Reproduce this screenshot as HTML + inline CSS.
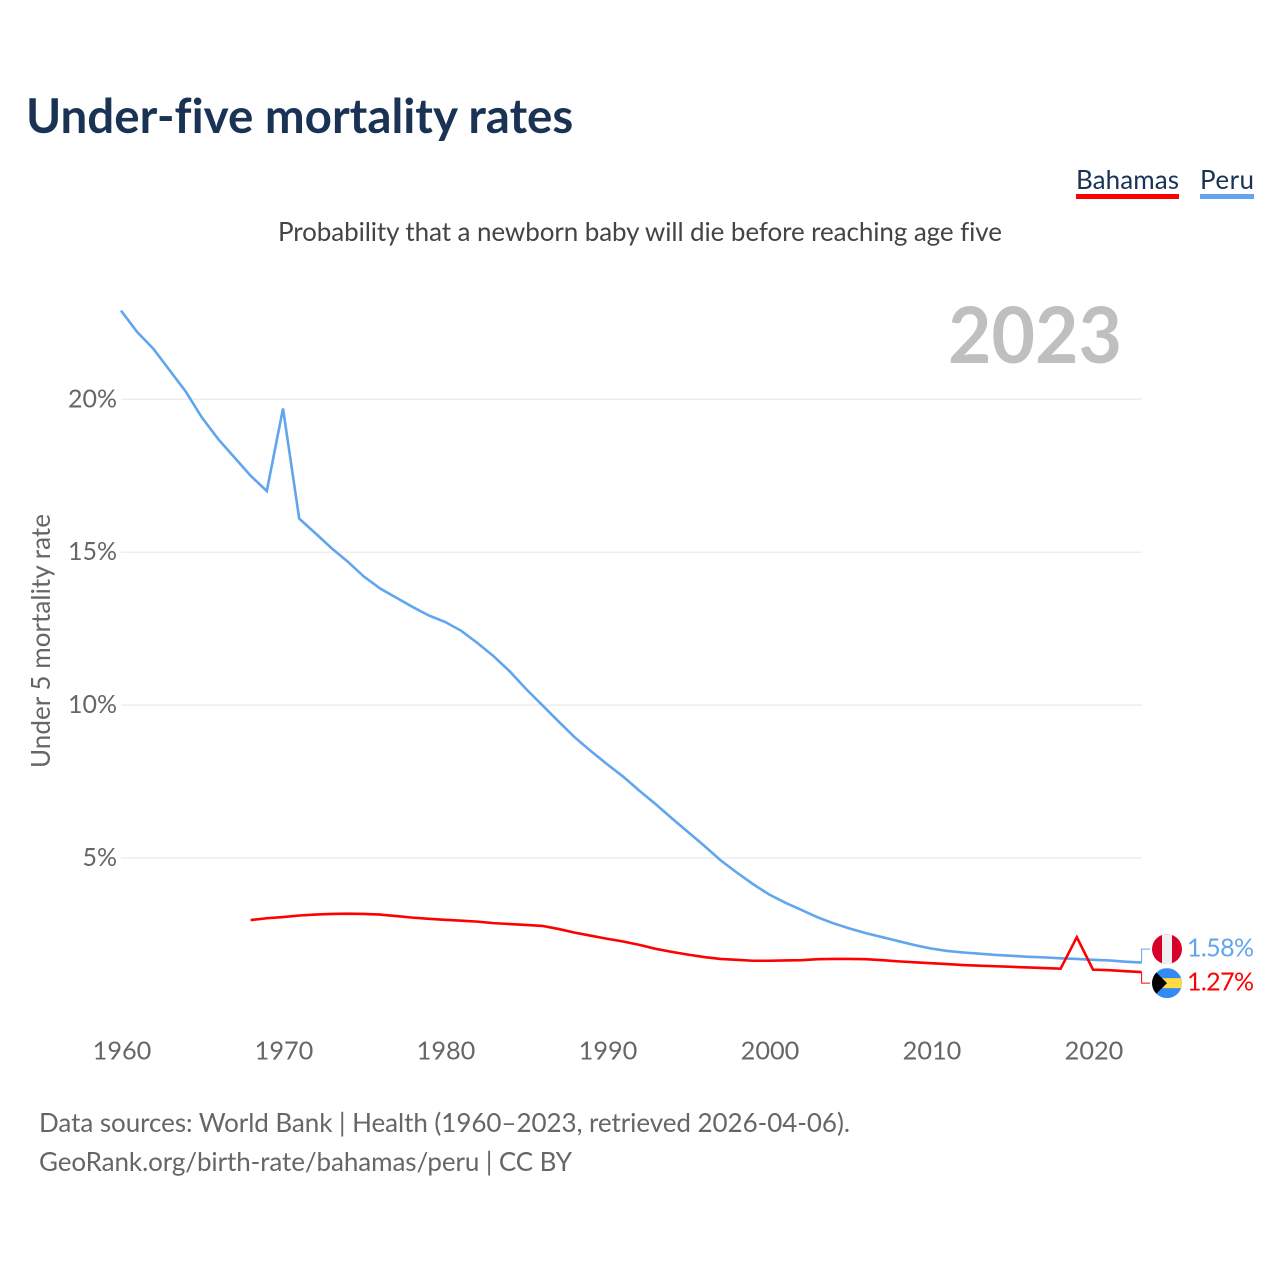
<!DOCTYPE html>
<html lang="en">
<head>
<meta charset="utf-8">
<title>Under-five mortality rates</title>
<style>
html,body{margin:0;padding:0;background:#fff;width:1280px;height:1280px;overflow:hidden}
svg{display:block}
text{font-family:"Lato","Carlito","Liberation Sans",sans-serif;font-variant-ligatures:none}
</style>
</head>
<body>
<svg id="chart" xmlns="http://www.w3.org/2000/svg" width="1280" height="1280" viewBox="0 0 1280 1280">
  <rect x="0" y="0" width="1280" height="1280" fill="#ffffff"/>
  <text x="26" y="133" font-size="47.5" font-weight="700" fill="#1a3254">Under-five mortality rates</text>
  <g>
    <text x="1076" y="189" font-size="26" fill="#1a3254" textLength="103">Bahamas</text>
    <rect x="1076" y="194" width="103" height="5" fill="#ff0000"/>
  </g>
  <g>
    <text x="1200" y="189" font-size="26" fill="#1a3254" textLength="54">Peru</text>
    <rect x="1200" y="194" width="54" height="5" fill="#60a5ee"/>
  </g>
  <text x="278" y="241" font-size="26" fill="#444444" textLength="724">Probability that a newborn baby will die before reaching age five</text>
  <text x="948" y="363" font-size="78" font-weight="700" fill="#bfbfbf" textLength="174" lengthAdjust="spacingAndGlyphs">2023</text>
  <text transform="translate(50 768) rotate(-90)" font-size="26" fill="#666666" textLength="254">Under 5 mortality rate</text>
  <g id="grid"></g>
  <g id="yticks"></g>
  <g id="xticks"></g>
  <g id="series"></g>
  <g id="ends"></g>
  <defs>
    <clipPath id="flag-clip"><circle cx="0" cy="0" r="15"/></clipPath>
  </defs>
  <text x="39" y="1132" font-size="26" fill="#666666" textLength="811">Data sources: World Bank | Health (1960–2023, retrieved 2026-04-06).</text>
  <text x="39" y="1171" font-size="26" fill="#666666" textLength="533">GeoRank.org/birth-rate/bahamas/peru | CC BY</text>
</svg>
<script>
const peruYears = [1960,1961,1962,1963,1964,1965,1966,1967,1968,1969,1970,1971,1972,1973,1974,1975,1976,1977,1978,1979,1980,1981,1982,1983,1984,1985,1986,1987,1988,1989,1990,1991,1992,1993,1994,1995,1996,1997,1998,1999,2000,2001,2002,2003,2004,2005,2006,2007,2008,2009,2010,2011,2012,2013,2014,2015,2016,2017,2018,2019,2020,2021,2022,2023];
const peruValues = [22.9,22.2,21.65,20.95,20.25,19.4,18.7,18.1,17.5,17.0,19.7,16.1,15.62,15.13,14.69,14.2,13.81,13.51,13.21,12.93,12.72,12.43,12.03,11.6,11.1,10.53,10.0,9.47,8.95,8.5,8.07,7.66,7.2,6.76,6.3,5.85,5.4,4.93,4.53,4.15,3.81,3.54,3.3,3.06,2.86,2.69,2.54,2.41,2.28,2.15,2.04,1.96,1.91,1.87,1.83,1.8,1.77,1.75,1.72,1.7,1.67,1.65,1.61,1.58];
const bahamasYears = [1968,1969,1970,1971,1972,1973,1974,1975,1976,1977,1978,1979,1980,1981,1982,1983,1984,1985,1986,1987,1988,1989,1990,1991,1992,1993,1994,1995,1996,1997,1998,1999,2000,2001,2002,2003,2004,2005,2006,2007,2008,2009,2010,2011,2012,2013,2014,2015,2016,2017,2018,2019,2020,2021,2022,2023];
const bahamasValues = [2.97,3.03,3.07,3.12,3.15,3.17,3.18,3.17,3.15,3.1,3.05,3.01,2.98,2.95,2.92,2.87,2.84,2.81,2.78,2.68,2.56,2.46,2.36,2.27,2.16,2.03,1.93,1.84,1.76,1.7,1.67,1.64,1.64,1.65,1.66,1.69,1.7,1.7,1.69,1.66,1.62,1.59,1.56,1.53,1.5,1.48,1.46,1.44,1.42,1.4,1.38,2.41,1.35,1.33,1.3,1.27];
const yTickValues = [5,10,15,20];
const yTickLabels = ['5%','10%','15%','20%'];
const xTickValues = [1960,1970,1980,1990,2000,2010,2020];
const xTickLabels = ['1960','1970','1980','1990','2000','2010','2020'];
const peruEndLabel = '1.58%';
const bahamasEndLabel = '1.27%';

const NS = 'http://www.w3.org/2000/svg';
const plot = {left:121, right:1141.6, zeroY:1010.9, perUnit:30.58, yearMin:1960, yearMax:2023};
function xScale(year){ return plot.left + (year - plot.yearMin) * (plot.right - plot.left) / (plot.yearMax - plot.yearMin); }
function yScale(v){ return plot.zeroY - v * plot.perUnit; }
function make(tag, attrs, parent){
  const el = document.createElementNS(NS, tag);
  for (const k in attrs) el.setAttribute(k, attrs[k]);
  parent.appendChild(el);
  return el;
}
const grid = document.getElementById('grid');
const yticks = document.getElementById('yticks');
const xticks = document.getElementById('xticks');
const series = document.getElementById('series');
const ends = document.getElementById('ends');

yTickValues.forEach(function(v, i){
  const line = make('line', {x1:plot.left, x2:plot.right, y1:yScale(v), y2:yScale(v), stroke:'#eeeeee', 'stroke-width':1.5}, grid);
  
  
  const label = make('text', {x:117, y:yScale(v)+8, 'text-anchor':'end', 'font-size':25, fill:'#666666'}, yticks);
  
  
  label.textContent = yTickLabels[i];
});

xTickValues.forEach(function(year, i){
  const label = make('text', {x:xScale(year)+1, y:1059.5, 'text-anchor':'middle', 'font-size':25.3, fill:'#666666'}, xticks);
  
  
  label.textContent = xTickLabels[i];
});

function linePath(years, values){
  return values.map(function(v, i){
    return (i ? 'L' : 'M') + xScale(years[i]).toFixed(2) + ' ' + yScale(v).toFixed(2);
  }).join(' ');
}
const peruLine = make('path', {d:linePath(peruYears, peruValues), fill:'none', stroke:'#60a5ee', 'stroke-width':2.6}, series);


const bahamasLine = make('path', {d:linePath(bahamasYears, bahamasValues), fill:'none', stroke:'#ff0000', 'stroke-width':2.6}, series);



const peruEndY = yScale(peruValues[peruValues.length - 1]);
const bahamasEndY = yScale(bahamasValues[bahamasValues.length - 1]);
const midY = (peruEndY + bahamasEndY) / 2 - 1.2;
const peruFlagY = midY - 17;
const bahamasFlagY = midY + 17;

const peruLink = make('path', {d:'M'+plot.right+' '+peruEndY+' V'+peruFlagY+' H1150', fill:'none', stroke:'#60a5ee', 'stroke-width':1}, ends);


const bahamasLink = make('path', {d:'M'+plot.right+' '+bahamasEndY+' V'+bahamasFlagY+' H1150', fill:'none', stroke:'#ff0000', 'stroke-width':1}, ends);



const peruFlag = make('g', {transform:'translate(1167 '+peruFlagY+')', 'clip-path':'url(#flag-clip)'}, ends);


make('rect', {x:-15, y:-15, width:30, height:30, fill:'#d80027'}, peruFlag);
make('rect', {x:-5, y:-15, width:10, height:30, fill:'#f0f0f0'}, peruFlag);

const bahamasFlag = make('g', {transform:'translate(1167 '+bahamasFlagY+')', 'clip-path':'url(#flag-clip)'}, ends);


make('rect', {x:-15, y:-15, width:30, height:30, fill:'#338af3'}, bahamasFlag);
make('rect', {x:-15, y:-5, width:30, height:10, fill:'#ffda44'}, bahamasFlag);
make('polygon', {points:'-15,-15 0,0 -15,15', fill:'#000000'}, bahamasFlag);

const peruValueLabel = make('text', {x:1187, y:peruFlagY+7.5, 'font-size':25, fill:'#60a5ee', textLength:67}, ends);


peruValueLabel.textContent = peruEndLabel;
const bahamasValueLabel = make('text', {x:1187, y:bahamasFlagY+7.5, 'font-size':25, fill:'#ff0000', textLength:67}, ends);


bahamasValueLabel.textContent = bahamasEndLabel;
</script>
</body>
</html>
